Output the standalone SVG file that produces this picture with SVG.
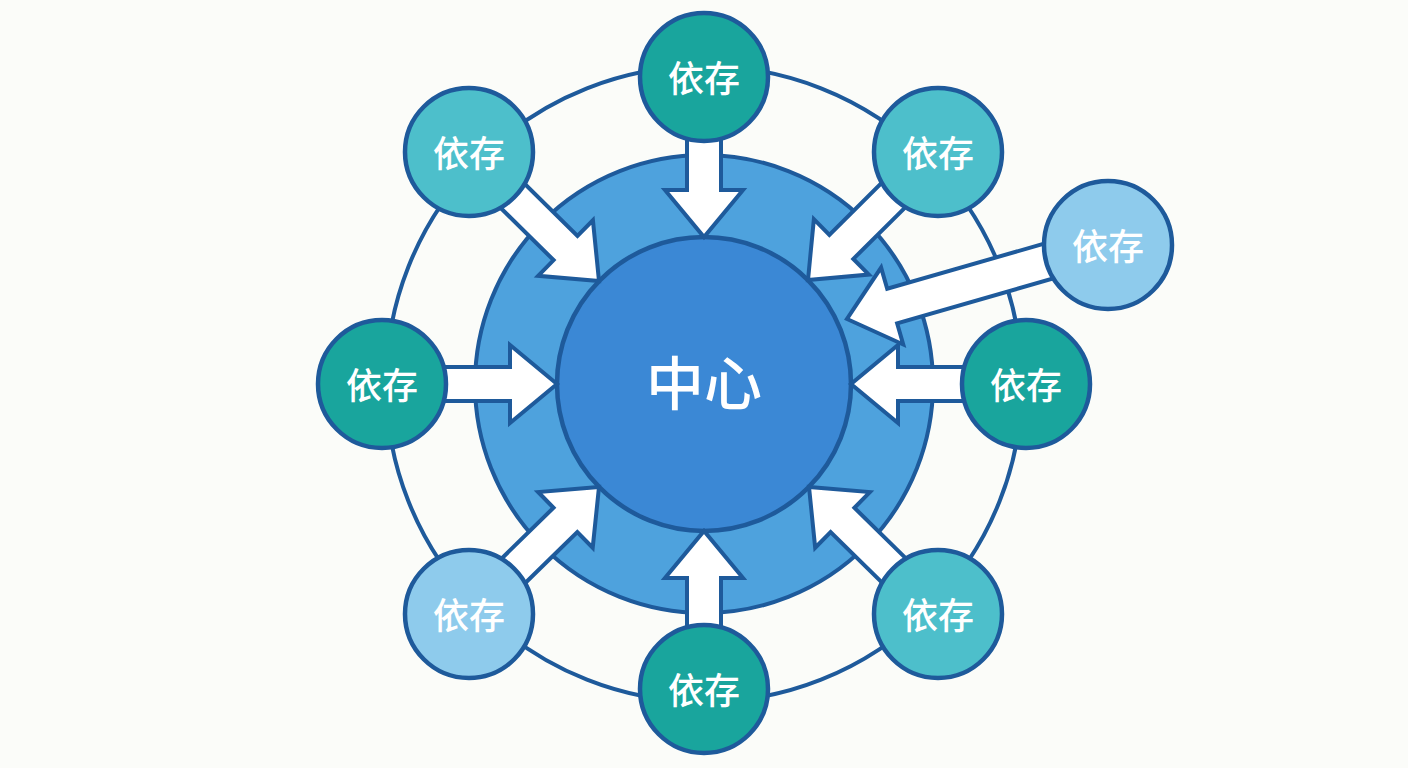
<svg xmlns="http://www.w3.org/2000/svg" width="1408" height="768" viewBox="0 0 1408 768">
<style>
.ln{fill:none;stroke:#1e5a9b;stroke-width:4}
.arr{fill:#ffffff;stroke:#1e5a9b;stroke-width:4;stroke-linejoin:miter}
.nd{stroke:#1e5a9b;stroke-width:4.5}
.dk{fill:#19a59d}
.md{fill:#4dbfcb}
.lt{fill:#8ecbec}
.t{fill:#ffffff;font-family:"Noto Sans CJK SC","Noto Sans CJK JP",sans-serif;font-weight:500;font-size:36px;text-anchor:middle}
.tc{fill:#ffffff;font-family:"Noto Sans CJK SC","Noto Sans CJK JP",sans-serif;font-weight:500;font-size:58px;text-anchor:middle}
</style>
<rect width="1408" height="768" fill="#fbfcf9"/>
<g id="ring"><circle class="ln" cx="704" cy="384" r="318"/></g>
<g id="middle"><circle cx="704" cy="384" r="229" fill="#4ea2dd" stroke="#1e5a9b" stroke-width="4"/></g>
<g id="center"><circle cx="704" cy="384" r="147" fill="#3b88d5" stroke="#1e5a9b" stroke-width="4.5"/></g>
<g id="connectors">
<polygon class="arr" transform="translate(704,237) rotate(90)" points="-160,-17 -47,-17 -47,-39 0,0 -47,39 -47,17 -160,17"/>
<polygon class="arr" transform="translate(704,531) rotate(-90)" points="-159,-17 -47,-17 -47,-39 0,0 -47,39 -47,17 -159,17"/>
<polygon class="arr" transform="translate(557,384)" points="-175,-17 -47,-17 -47,-39 0,0 -47,39 -47,17 -175,17"/>
<polygon class="arr" transform="translate(851,384) rotate(180)" points="-175,-17 -47,-17 -47,-39 0,0 -47,39 -47,17 -175,17"/>
<polygon class="arr" transform="translate(599,281) rotate(44.6)" points="-183,-17 -47,-17 -47,-39 0,0 -47,39 -47,17 -183,17"/>
<polygon class="arr" transform="translate(808,280) rotate(135.2)" points="-182,-17 -47,-17 -47,-39 0,0 -47,39 -47,17 -182,17"/>
<polygon class="arr" transform="translate(599,487) rotate(-44.4)" points="-182,-17 -47,-17 -47,-39 0,0 -47,39 -47,17 -182,17"/>
<polygon class="arr" transform="translate(809,487) rotate(-135.5)" points="-182,-17 -47,-17 -47,-39 0,0 -47,39 -47,17 -182,17"/>
<polygon class="arr" transform="translate(847,319) rotate(163.97)" points="-272,-18 -47,-18 -47,-40 0,0 -47,40 -47,18 -272,18"/>
</g>
<g id="center-label"><text class="tc" x="704" y="405">中心</text></g>
<g id="n-top"><circle class="nd dk" cx="704" cy="77" r="64"/><text class="t" x="704" y="92">依存</text></g>
<g id="n-topleft"><circle class="nd md" cx="469" cy="152" r="64"/><text class="t" x="469" y="167">依存</text></g>
<g id="n-topright"><circle class="nd md" cx="938" cy="152" r="64"/><text class="t" x="938" y="167">依存</text></g>
<g id="n-farright"><circle class="nd lt" cx="1108" cy="245" r="64"/><text class="t" x="1108" y="260">依存</text></g>
<g id="n-left"><circle class="nd dk" cx="382" cy="384" r="64"/><text class="t" x="382" y="399">依存</text></g>
<g id="n-right"><circle class="nd dk" cx="1026" cy="384" r="64"/><text class="t" x="1026" y="399">依存</text></g>
<g id="n-bottomleft"><circle class="nd lt" cx="469" cy="614" r="64"/><text class="t" x="469" y="629">依存</text></g>
<g id="n-bottom"><circle class="nd dk" cx="704" cy="689" r="64"/><text class="t" x="704" y="704">依存</text></g>
<g id="n-bottomright"><circle class="nd md" cx="938" cy="614" r="64"/><text class="t" x="938" y="629">依存</text></g>
</svg>
